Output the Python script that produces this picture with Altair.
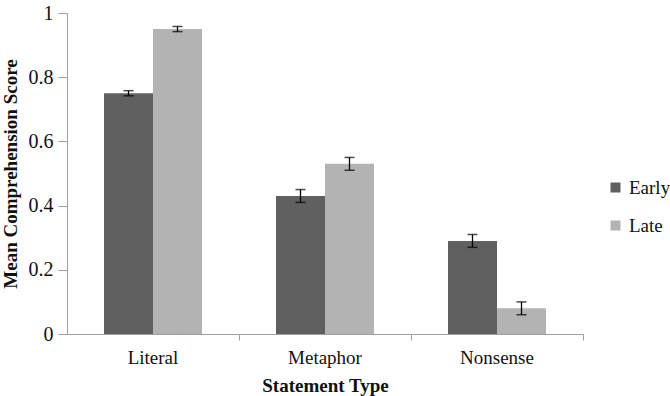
import altair as alt
import pandas as pd

categories = ["Literal", "Metaphor", "Nonsense"]
groups = ["Early", "Late"]
early = [0.75, 0.43, 0.29]
late = [0.95, 0.53, 0.08]
early_err = [0.008, 0.02, 0.02]
late_err = [0.008, 0.02, 0.02]
colors = ["#606060", "#b3b3b3"]

rows = []
for i, c in enumerate(categories):
    for g, vals, errs in (("Early", early, early_err), ("Late", late, late_err)):
        rows.append(dict(type=c, group=g, score=vals[i],
                         lo=vals[i] - errs[i], hi=vals[i] + errs[i]))
df = pd.DataFrame(rows)

FONT = "Times New Roman, Liberation Serif, serif"

x = alt.X("type:N", sort=categories,
          scale=alt.Scale(paddingInner=0, paddingOuter=0),
          axis=alt.Axis(title="Statement Type", bandPosition=1,
                        labelAngle=0, labelFontSize=19, labelPadding=8,
                        labelFont=FONT, titleFont=FONT,
                        titleFontSize=19, titleFontWeight="bold", titlePadding=9,
                        tickSize=6, tickColor="#a0a0a0", domainColor="#a0a0a0",
                        labelColor="#111111", titleColor="#111111"))
xoff = alt.XOffset("group:N", sort=groups,
                   scale=alt.Scale(paddingInner=0, paddingOuter=0.755))

base = alt.Chart(df)

bars = base.mark_bar().encode(
    x=x,
    xOffset=xoff,
    y=alt.Y("score:Q", scale=alt.Scale(domain=[0, 1]),
            axis=alt.Axis(title="Mean Comprehension Score", values=[0, 0.2, 0.4, 0.6, 0.8, 1],
                          format=".1~f", grid=False, labelFontSize=20, titleFontSize=19,
                          labelFont=FONT, titleFont=FONT,
                          titleFontWeight="bold", titlePadding=8, tickSize=9,
                          tickColor="#a0a0a0", domainColor="#a0a0a0",
                          labelColor="#111111", titleColor="#111111", labelPadding=5)),
    color=alt.Color("group:N", sort=groups,
                    scale=alt.Scale(domain=groups, range=colors),
                    legend=alt.Legend(title=None, orient="none", legendX=539, legendY=165,
                                      symbolType="square", symbolSize=100,
                                      symbolStrokeWidth=0, labelFontSize=19,
                                      labelFont=FONT, rowPadding=18, labelColor="#111111")),
)

rules = base.mark_rule(color="black", strokeWidth=1.3).encode(
    x=x, xOffset=xoff, y="lo:Q", y2="hi:Q")
cap_lo = base.mark_tick(color="black", thickness=1.5, size=10, orient="horizontal").encode(
    x=x, xOffset=xoff, y="lo:Q")
cap_hi = base.mark_tick(color="black", thickness=1.5, size=10, orient="horizontal").encode(
    x=x, xOffset=xoff, y="hi:Q")

chart = alt.layer(bars, rules, cap_lo, cap_hi).properties(
    width=516, height=321,
    autosize=alt.AutoSizeParams(type="none"),
    padding={"left": 67, "top": 13, "right": 87, "bottom": 62},
    background="white",
).configure(font=FONT).configure_view(stroke=None)

chart.save("out.html", embed_options={"renderer": "svg", "actions": False})
